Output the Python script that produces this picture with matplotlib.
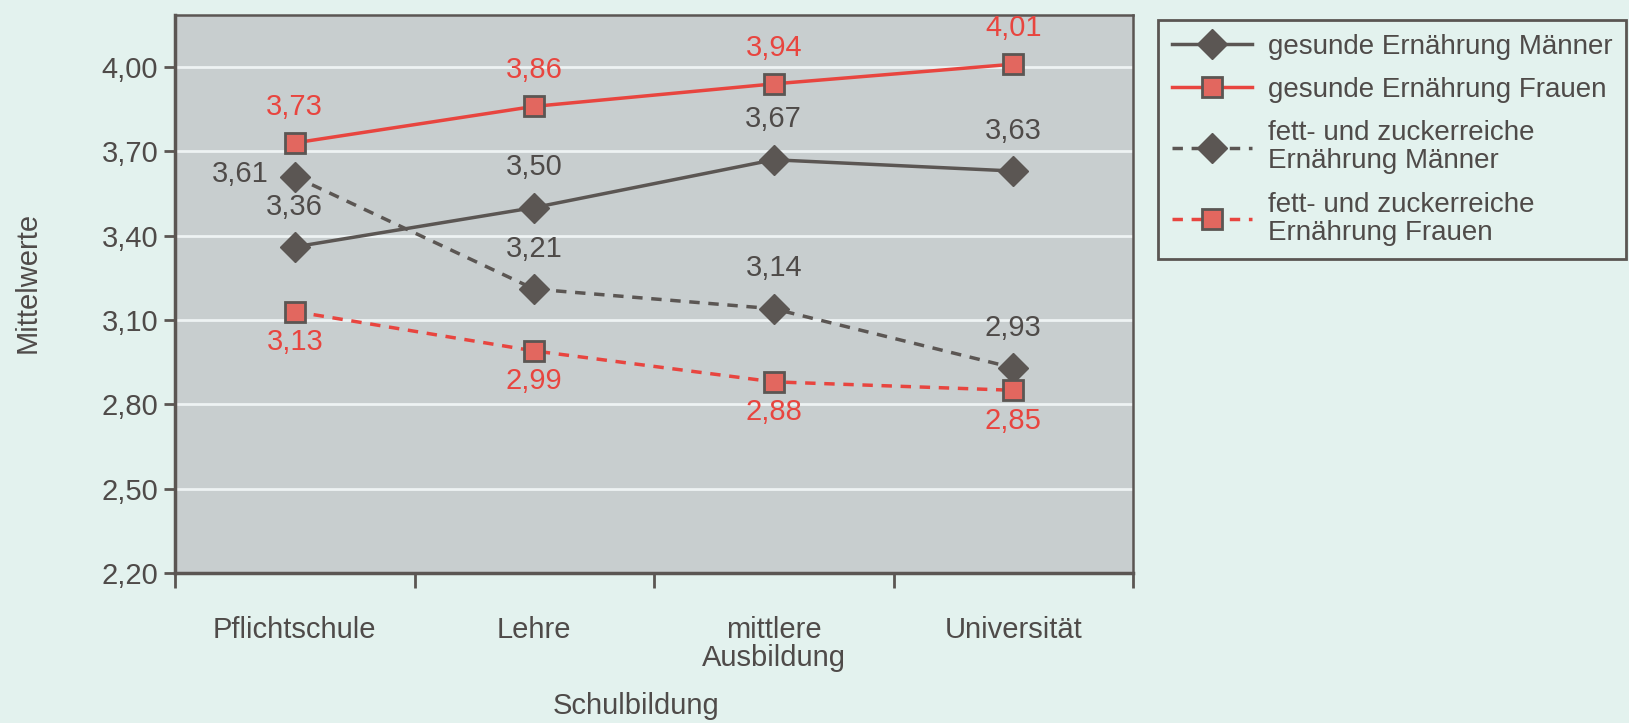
import numpy as np
import matplotlib.pyplot as plt

# data
schulbildung = ["Pflichtschule", "Lehre", "mittlere\nAusbildung", "Universität"]
gesund_maenner = [3.36, 3.50, 3.67, 3.63]
gesund_frauen = [3.73, 3.86, 3.94, 4.01]
fett_maenner = [3.61, 3.21, 3.14, 2.93]
fett_frauen = [3.13, 2.99, 2.88, 2.85]
y_ticks = [2.20, 2.50, 2.80, 3.10, 3.40, 3.70, 4.00]

plt.rcParams['font.family'] = ['Liberation Sans Narrow', 'Liberation Sans', 'DejaVu Sans']

grau = "#4f4b49"
linie_grau = "#5b5653"
rot = "#e8453f"
rot_face = "#e2675f"
bg = "#e3f2ee"

W, H = 1629, 723
fig = plt.figure(figsize=(W / 100, H / 100), dpi=100, facecolor=bg)
# axes box in pixels: left 175, right 1133, top 15, bottom 573
ax = fig.add_axes([175 / W, 1 - 573 / H, 958 / W, 558 / H])
ax.set_facecolor("#c8cecf")

x = np.arange(len(schulbildung)) + 0.5
lw = 2.5

ax.plot(x, gesund_maenner, color=linie_grau, lw=lw, marker="D", ms=15, mfc=linie_grau, mec=linie_grau,
        label="gesunde Ernährung Männer", zorder=3)
ax.plot(x, gesund_frauen, color=rot, lw=lw, marker="s", ms=14, mfc=rot_face, mec=linie_grau, mew=2,
        label="gesunde Ernährung Frauen", zorder=3)
ax.plot(x, fett_maenner, color=linie_grau, lw=lw, ls=(0, (3, 2.5)), marker="D", ms=15, mfc=linie_grau,
        mec=linie_grau, label="fett- und zuckerreiche\nErnährung Männer", zorder=3)
ax.plot(x, fett_frauen, color=rot, lw=lw, ls=(0, (3, 2.5)), marker="s", ms=14, mfc=rot_face,
        mec=linie_grau, mew=2, label="fett- und zuckerreiche\nErnährung Frauen", zorder=3)

def fmt(v):
    return f"{v:.2f}".replace(".", ",")

fs = 21
for xi, v in zip(x, gesund_maenner):
    ax.annotate(fmt(v), (xi, v), xytext=(0, 29), textcoords="offset points",
                ha="center", va="center", color=grau, fontsize=fs)
for xi, v in zip(x, gesund_frauen):
    ax.annotate(fmt(v), (xi, v), xytext=(0, 26), textcoords="offset points",
                ha="center", va="center", color=rot, fontsize=fs)
for i, (xi, v) in enumerate(zip(x, fett_maenner)):
    if i == 0:
        ax.annotate(fmt(v), (xi, v), xytext=(-19, 2), textcoords="offset points",
                    ha="right", va="center", color=grau, fontsize=fs)
    else:
        ax.annotate(fmt(v), (xi, v), xytext=(0, 29), textcoords="offset points",
                    ha="center", va="center", color=grau, fontsize=fs)
for xi, v in zip(x, fett_frauen):
    ax.annotate(fmt(v), (xi, v), xytext=(0, -22), textcoords="offset points",
                ha="center", va="center", color=rot, fontsize=fs)

ax.set_xlim(0, 4)
ax.set_ylim(2.20, 4.185)
ax.set_yticks(y_ticks)
ax.set_yticklabels([fmt(t) for t in y_ticks], fontsize=fs, color=grau)
ax.set_xticks(np.arange(5))
ax.set_xticklabels([])
ax.set_xticks(x, minor=True)
ax.set_xticklabels(schulbildung, minor=True, fontsize=fs, color=grau, linespacing=1.0)
ax.tick_params(axis="x", which="minor", length=0, pad=31)
ax.tick_params(axis="x", which="major", length=11, width=2, color=linie_grau, direction="out")
ax.tick_params(axis="y", length=8, width=2, color=linie_grau, pad=4)
ax.yaxis.grid(True, color="#eef3f3", lw=2)
ax.set_axisbelow(True)

for s in ["left", "bottom"]:
    ax.spines[s].set_color(linie_grau)
    ax.spines[s].set_linewidth(2.5)
for s in ["top", "right"]:
    ax.spines[s].set_color(linie_grau)
    ax.spines[s].set_linewidth(1.8)

ax.set_ylabel("Mittelwerte", fontsize=fs, color=grau, va="center")
ax.yaxis.set_label_coords(-147 / 958, 0.52)
ax.set_xlabel("Schulbildung", fontsize=fs, color=grau, va="center")
ax.xaxis.set_label_coords(0.481, -133 / 558)

leg = fig.legend(loc="upper left", bbox_to_anchor=(1158 / W, 1 - 20 / H), borderaxespad=0,
                 fontsize=20, frameon=True, fancybox=False, edgecolor=linie_grau, facecolor=bg,
                 framealpha=1, handlelength=2.9, labelspacing=0.62, borderpad=0.5, handletextpad=0.55)
leg.get_frame().set_linewidth(2)
for t in leg.get_texts():
    t.set_color(grau)
    t.set_linespacing(1.1)

fig.savefig("out.png", dpi=100, facecolor=bg)
